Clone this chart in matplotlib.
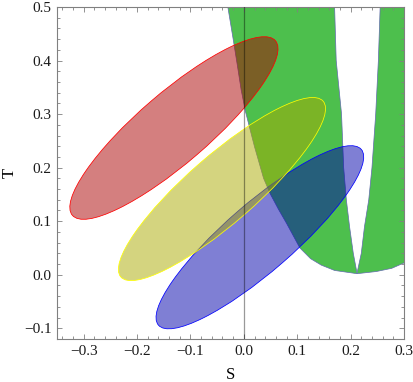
import numpy as np
import matplotlib
matplotlib.use("Agg")
import matplotlib.pyplot as plt
from matplotlib.patches import Ellipse, Polygon
from matplotlib.ticker import MultipleLocator

# ---- data ----
# error ellipses in the S-T plane: centres, half-extents, correlation
ell_S = [-0.131, -0.041, 0.030]
ell_T = [0.274, 0.160, 0.070]
ell_sigS = [0.195, 0.194, 0.1945]
ell_sigT = [0.1705, 0.171, 0.171]
ell_rho = [0.868, 0.877, 0.877]
ell_face = [(0.667, 0.0, 0.0), (0.667, 0.667, 0.0), (0.0, 0.0, 0.667)]
ell_edge = ["#ff0000", "#ffff00", "#0000ff"]

# allowed (green) region boundary
outer_S = [-0.030, -0.020, -0.012, -0.005, 0.003, 0.020, 0.037, 0.050, 0.065,
           0.080, 0.105, 0.125, 0.145, 0.170, 0.212]
outer_T = [0.50, 0.44, 0.39, 0.345, 0.305, 0.239, 0.180, 0.150, 0.122,
           0.096, 0.050, 0.030, 0.018, 0.008, 0.002]
right_S = [0.212, 0.248, 0.277, 0.300, 0.320]
right_T = [0.002, 0.006, 0.012, 0.022, 0.035]
inner_right_S = [0.257, 0.252, 0.247, 0.240, 0.234, 0.226, 0.220, 0.212]
inner_right_T = [0.50, 0.40, 0.30, 0.20, 0.14, 0.09, 0.04, 0.003]
inner_left_S = [0.212, 0.205, 0.198, 0.192, 0.187, 0.183, 0.178, 0.173, 0.170]
inner_left_T = [0.003, 0.04, 0.09, 0.14, 0.20, 0.30, 0.35, 0.40, 0.50]

xlim = (-0.35, 0.3)
ylim = (-0.12, 0.5)
xticks = [-0.3, -0.2, -0.1, 0.0, 0.1, 0.2, 0.3]
yticks = [-0.1, 0.0, 0.1, 0.2, 0.3, 0.4, 0.5]

plt.rcParams['font.family'] = ['Liberation Serif', 'DejaVu Serif']

fig = plt.figure(figsize=(4.14, 3.82), dpi=100)
ax = fig.add_axes([57/414, 1-339/382, (404-57)/414, (339-7)/382])

# green region polygon (with the notch)
top = 0.55
poly_S = (outer_S[:-1] + right_S + [0.33, 0.33, inner_right_S[0]] + inner_right_S[1:]
          + inner_left_S[1:] + [inner_left_S[-1], outer_S[0]])
poly_T = (outer_T[:-1] + right_T + [right_T[-1], top, top] + inner_right_T[1:]
          + inner_left_T[1:] + [top, top])
green = Polygon(np.column_stack([poly_S, poly_T]), closed=True,
                facecolor=(0.30, 0.75, 0.30), edgecolor=(0.38, 0.42, 0.68),
                linewidth=0.5, zorder=1)
ax.add_patch(green)

# ellipses (draw blue, then yellow, then red)
for i in [2, 1, 0]:
    sx, sy, r = ell_sigS[i], ell_sigT[i], ell_rho[i]
    cov = np.array([[sx*sx, r*sx*sy], [r*sx*sy, sy*sy]])
    vals, vecs = np.linalg.eigh(cov)
    ang = np.degrees(np.arctan2(vecs[1, 1], vecs[0, 1]))
    e = Ellipse((ell_S[i], ell_T[i]), 2*np.sqrt(vals[1]), 2*np.sqrt(vals[0]),
                angle=ang, facecolor=ell_face[i] + (0.5,),
                edgecolor=ell_edge[i], linewidth=0.55, zorder=2)
    ax.add_patch(e)

ax.axvline(0.0, color=(0, 0, 0), alpha=0.4, linewidth=0.9, zorder=3)

ax.set_xlim(*xlim)
ax.set_ylim(*ylim)
ax.set_xticks(xticks)
ax.set_yticks(yticks)
ax.set_xticklabels([f"{v:.1f}".replace('-', '\u2212') for v in xticks])
ax.set_yticklabels([f"{v:.1f}".replace('-', '\u2212') for v in yticks])
ax.xaxis.set_minor_locator(MultipleLocator(0.02))
ax.yaxis.set_minor_locator(MultipleLocator(0.02))
ax.tick_params(which='both', direction='in', top=True, right=True,
               color=(0.5, 0.5, 0.5), width=0.6, labelsize=11,
               labelcolor=(0.1, 0.1, 0.1))
ax.tick_params(which='major', length=3.5)
ax.tick_params(which='minor', length=2.0)
ax.tick_params(axis='x', pad=4)
ax.tick_params(axis='y', pad=4)
for sp in ax.spines.values():
    sp.set_color((0.5, 0.5, 0.5))
    sp.set_linewidth(0.8)

ax.set_xlabel("S", fontsize=12, va='center')
ax.set_ylabel("T", fontsize=12, va='center')
ax.xaxis.set_label_coords(0.5, -36/332)
ax.yaxis.set_label_coords(-47/347, 0.5)

fig.savefig("out.png", dpi=100)
